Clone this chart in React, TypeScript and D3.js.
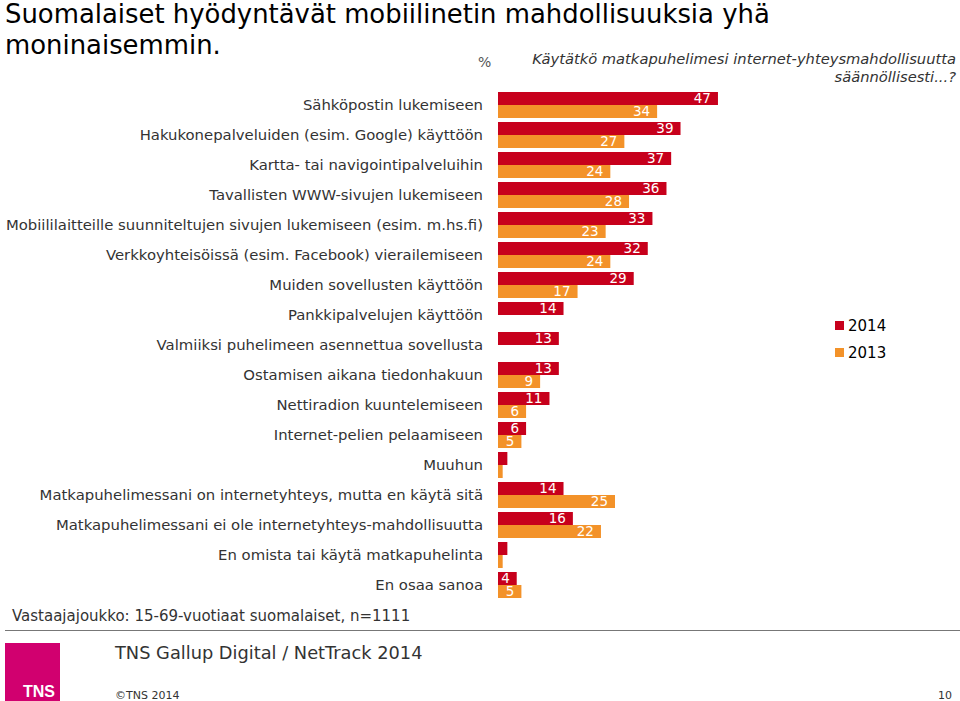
import React from "react";
import * as d3 from "d3";

const categories = [
  "Sähköpostin lukemiseen",
  "Hakukonepalveluiden (esim. Google) käyttöön",
  "Kartta- tai navigointipalveluihin",
  "Tavallisten WWW-sivujen lukemiseen",
  "Mobiililaitteille suunniteltujen sivujen lukemiseen (esim. m.hs.fi)",
  "Verkkoyhteisöissä (esim. Facebook) vierailemiseen",
  "Muiden sovellusten käyttöön",
  "Pankkipalvelujen käyttöön",
  "Valmiiksi puhelimeen asennettua sovellusta",
  "Ostamisen aikana tiedonhakuun",
  "Nettiradion kuuntelemiseen",
  "Internet-pelien pelaamiseen",
  "Muuhun",
  "Matkapuhelimessani on internetyhteys, mutta en käytä sitä",
  "Matkapuhelimessani ei ole internetyhteys-mahdollisuutta",
  "En omista tai käytä matkapuhelinta",
  "En osaa sanoa",
];

const series = ["2014", "2013"];
const values2014: (number | null)[] = [47, 39, 37, 36, 33, 32, 29, 14, 13, 13, 11, 6, 2, 14, 16, 2, 4];
const values2013: (number | null)[] = [34, 27, 24, 28, 23, 24, 17, null, null, 9, 6, 5, 1, 25, 22, 1, 5];

const colors: Record<string, string> = { "2014": "#C7001C", "2013": "#F39229" };

const FONT = "Verdana, 'DejaVu Sans', sans-serif";

export default function App() {
  const x = d3.scaleLinear().domain([0, 100]).range([498, 966]);
  const y = d3.scaleBand<string>().domain(categories).range([90, 600]).paddingInner(4 / 30).paddingOuter(2 / 30);
  const inner = d3.scaleBand<string>().domain(series).range([0, y.bandwidth()]);

  const seriesValues: Record<string, (number | null)[]> = { "2014": values2014, "2013": values2013 };

  return (
    <svg width={960} height={701} style={{ position: "absolute", left: 0, top: 0, background: "#fff" }} fontFamily={FONT}>
      <rect width={960} height={701} fill="#fff" />
      {/* Title */}
      <text x={5} y={23} fontSize={25.9} fill="#000">Suomalaiset hyödyntävät mobiilinetin mahdollisuuksia yhä</text>
      <text x={5} y={54} fontSize={25.9} fill="#000">moninaisemmin.</text>

      {/* Subtitle */}
      <text x={478} y={67} fontSize={14} fill="#555">%</text>
      <text x={956} y={64} fontSize={14.7} fontStyle="italic" fill="#333" textAnchor="end">Käytätkö matkapuhelimesi internet-yhteysmahdollisuutta</text>
      <text x={956} y={82} fontSize={14.7} fontStyle="italic" fill="#333" textAnchor="end">säännöllisesti...?</text>

      {/* Category labels */}
      {categories.map((c) => (
        <text key={c} x={483} y={(y(c) as number) + y.bandwidth() / 2 + 5} fontSize={14.85} fill="#333" textAnchor="end">
          {c}
        </text>
      ))}

      {/* Bars */}
      {categories.map((c, i) => (
        <g key={c} transform={`translate(0,${y(c)})`}>
          {series.map((s) => {
            const v = seriesValues[s][i];
            if (v == null) return null;
            const y0 = inner(s) as number;
            const w = x(v) - x(0);
            return (
              <g key={s}>
                <rect x={x(0)} y={y0} width={w} height={inner.bandwidth()} fill={colors[s]} />
                {v >= 3 && (
                  <text x={x(v) - 7} y={y0 + inner.bandwidth() / 2 + 4.8} fontSize={13.5} fill="#fff" textAnchor="end">
                    {v}
                  </text>
                )}
              </g>
            );
          })}
        </g>
      ))}

      {/* Legend */}
      {series.map((s, i) => (
        <g key={s} transform={`translate(835,${321 + i * 27})`}>
          <rect x={0} y={0} width={9} height={9} fill={colors[s]} />
          <text x={13} y={10} fontSize={15} fill="#000">{s}</text>
        </g>
      ))}

      {/* Footer */}
      <text x={12} y={621} fontSize={15} fill="#333">Vastaajajoukko: 15-69-vuotiaat suomalaiset, n=1111</text>
      <line x1={5} x2={960} y1={630.5} y2={630.5} stroke="#777" strokeWidth={1.2} />
      <rect x={5} y={643} width={55} height={58} fill="#D1006F" />
      <text x={39} y={697} fontSize={16} fontWeight="bold" fill="#fff" textAnchor="middle" fontFamily="Arial, 'Liberation Sans', sans-serif">TNS</text>
      <text x={115} y={659} fontSize={17.8} fill="#333">TNS Gallup Digital / NetTrack 2014</text>
      <text x={115} y={699} fontSize={11} fill="#333">©TNS 2014</text>
      <text x={952} y={699} fontSize={11} fill="#333" textAnchor="end">10</text>
    </svg>
  );
}
